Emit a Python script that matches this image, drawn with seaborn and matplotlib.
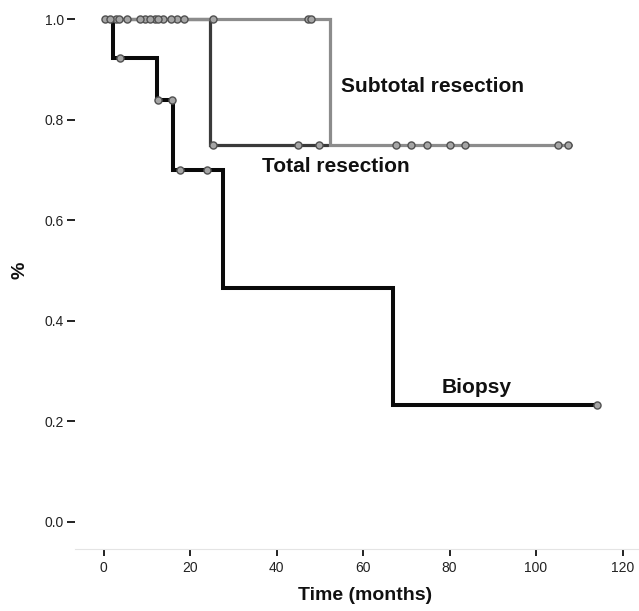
import numpy as np
import pandas as pd
import matplotlib
matplotlib.use("Agg")
import matplotlib.pyplot as plt
import seaborn as sns

# ---- data ----
groups = ["Total resection", "Subtotal resection", "Biopsy"]

biopsy_event_times = [2.3, 12.3, 16.1, 27.7, 66.9]
biopsy_surv = [0.923, 0.839, 0.700, 0.465, 0.233]
biopsy_censor = [3.7, 12.7, 15.8, 17.7, 23.9, 114.0]
biopsy_end = 114.0

total_event_times = [24.7]
total_surv = [0.75]
total_censor = [0.35, 2.8, 5.4, 9.6, 11.9, 13.8, 16.9, 25.3, 45.0, 49.8]
total_end = 51.8

subtotal_event_times = [52.4]
subtotal_surv = [0.75]
subtotal_censor = [1.5, 3.6, 8.4, 10.8, 12.7, 15.6, 18.7, 25.4, 47.2, 48.0,
                   67.7, 71.1, 74.8, 80.0, 83.5, 105.0, 107.4]
subtotal_end = 108.1

x_ticks = [0, 20, 40, 60, 80, 100, 120]
y_ticks = [0.0, 0.2, 0.4, 0.6, 0.8, 1.0]

styles = {
    "Biopsy": dict(color="#0a0a0a", lw=2.9),
    "Total resection": dict(color="#3a3a3a", lw=2.3),
    "Subtotal resection": dict(color="#8c8c8c", lw=2.3),
}
curves = {
    "Biopsy": (biopsy_event_times, biopsy_surv, biopsy_censor, biopsy_end),
    "Total resection": (total_event_times, total_surv, total_censor, total_end),
    "Subtotal resection": (subtotal_event_times, subtotal_surv, subtotal_censor, subtotal_end),
}


def surv_at(t, times, survs):
    idx = np.searchsorted(np.asarray(times), np.asarray(t), side="right")
    return np.asarray([1.0] + list(survs))[idx]


sns.set_style("white")
plt.rcParams["font.family"] = ["Liberation Sans", "DejaVu Sans"]

fig = plt.figure(figsize=(6.39, 6.11), dpi=100)
ax = fig.add_axes([75 / 639, 1 - 549 / 611, 564 / 639, 540 / 611])

for g in groups:
    times, survs, cens, end = curves[g]
    step_df = pd.DataFrame({
        "time": [0.0] + list(times) + [end],
        "surv": [1.0] + list(survs) + [survs[-1]],
    })
    sns.lineplot(data=step_df, x="time", y="surv", estimator=None, sort=False,
                 drawstyle="steps-post", color=styles[g]["color"],
                 linewidth=styles[g]["lw"], ax=ax, zorder=2,
                 solid_joinstyle="miter")

for g in groups:
    times, survs, cens, end = curves[g]
    cdf = pd.DataFrame({"time": cens, "surv": surv_at(cens, times, survs)})
    sns.scatterplot(data=cdf, x="time", y="surv", marker="o", s=26,
                    color="#a5a5a5", edgecolor="#505050", linewidth=1.0,
                    ax=ax, zorder=4)

ax.text(54.9, 0.855, "Subtotal resection", fontsize=15, fontweight="bold",
        ha="left", va="baseline", color="#111111")
ax.text(36.6, 0.696, "Total resection", fontsize=15, fontweight="bold",
        ha="left", va="baseline", color="#111111")
ax.text(78.2, 0.256, "Biopsy", fontsize=15, fontweight="bold",
        ha="left", va="baseline", color="#111111")

ax.set_xlim(-6.6, 123.8)
ax.set_ylim(-0.054, 1.02)
ax.set_xticks(x_ticks)
ax.set_xticklabels([str(v) for v in x_ticks])
ax.set_yticks(y_ticks)
ax.set_yticklabels([f"{v:.1f}" for v in y_ticks])

for s in ["top", "right", "left"]:
    ax.spines[s].set_visible(False)
ax.spines["bottom"].set_color("#e4e4e4")
ax.spines["bottom"].set_linewidth(0.8)

ax.tick_params(axis="y", direction="out", length=6, width=1.4, color="#222222",
               pad=2, labelsize=10, labelcolor="#222222", left=True)
ax.tick_params(axis="x", direction="out", length=5, width=1.4, color="#222222",
               pad=4, labelsize=10, labelcolor="#222222", bottom=True)

ax.set_xlabel("Time (months)", fontsize=14, fontweight="bold", color="#111111")
ax.set_ylabel("%", fontsize=14, fontweight="bold", color="#111111")
ax.xaxis.set_label_coords(0.514, -0.070)
ax.yaxis.set_label_coords(-0.083, 0.517)

fig.savefig("out.png", dpi=100)
